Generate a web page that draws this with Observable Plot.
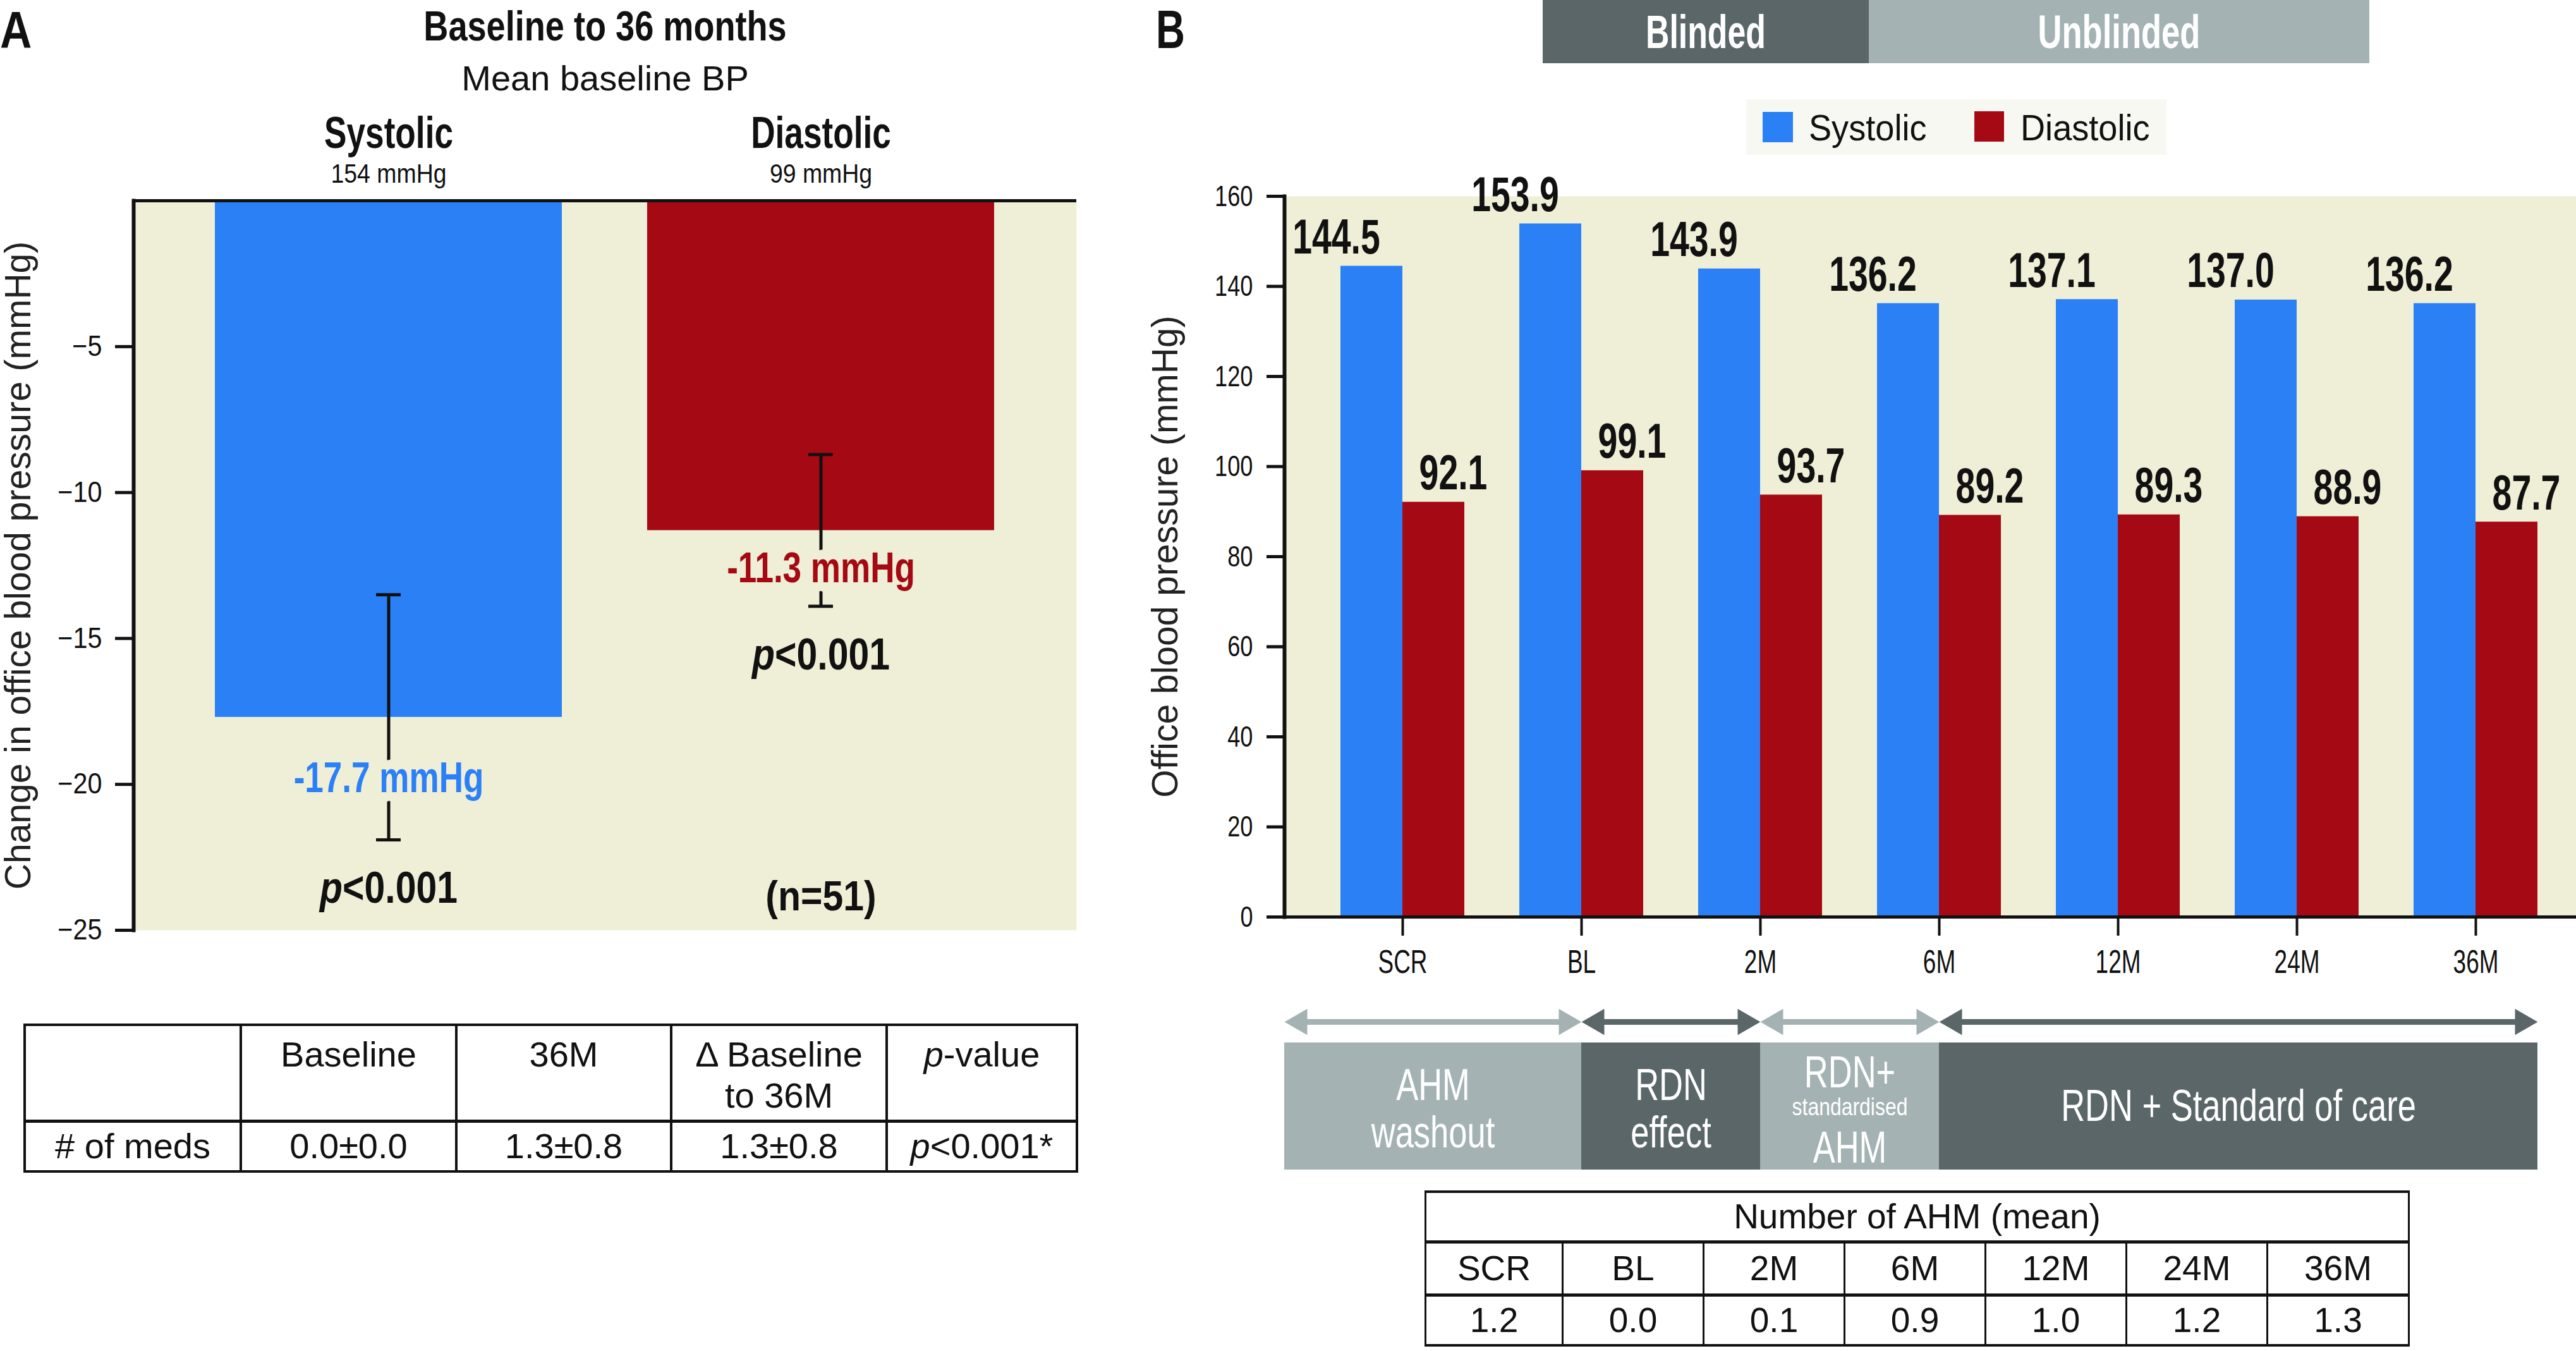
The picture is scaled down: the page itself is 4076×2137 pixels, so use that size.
<!DOCTYPE html>
<html>
<head>
<meta charset="utf-8">
<script src="https://cdn.jsdelivr.net/npm/d3@7"></script>
<script src="https://cdn.jsdelivr.net/npm/@observablehq/plot@0.6"></script>
<style>
html, body { margin:0; padding:0; background:#fff; }
#page { position:relative; width:4076px; height:2137px; overflow:hidden; background:#fff; }
#page > * { position:absolute; }
table.grid { border-collapse: collapse; table-layout: fixed; font-family: "Liberation Sans", Arial, sans-serif; color:#111; }
table.grid td { text-align:center; padding:0; border:4px solid #111; }
</style>
</head>
<body>
<div id="page"></div>
<script>
// ---------------- DATA ----------------
// Panel A
const titleA = "Baseline to 36 months";
const subtitleA = "Mean baseline BP";
const seriesA = ["Systolic", "Diastolic"];
const baselineBP = ["154 mmHg", "99 mmHg"];
const changeA = [-17.7, -11.3];
const errLowA = [-21.9, -13.9];
const errHighA = [-13.5, -8.7];
const pA = ["p<0.001", "p<0.001"];
const nLabel = "(n=51)";
const yTicksA = [-5, -10, -15, -20, -25];
const yLabelA = "Change in office blood pressure (mmHg)";
const tableAHeader = ["", "Baseline", "36M", "Δ Baseline\nto 36M", "p-value"];
const tableARow = ["# of meds", "0.0±0.0", "1.3±0.8", "1.3±0.8", "p<0.001*"];

// Panel B
const timepoints = ["SCR", "BL", "2M", "6M", "12M", "24M", "36M"];
const seriesB = ["Systolic", "Diastolic"];
const systolic = [144.5, 153.9, 143.9, 136.2, 137.1, 137.0, 136.2];
const diastolic = [92.1, 99.1, 93.7, 89.2, 89.3, 88.9, 87.7];
const yTicksB = [0, 20, 40, 60, 80, 100, 120, 140, 160];
const yLabelB = "Office blood pressure (mmHg)";
const blindLabels = ["Blinded", "Unblinded"];
const phases = ["AHM\nwashout", "RDN\neffect", "RDN+\nstandardised\nAHM", "RDN + Standard of care"];
const phaseFrom = ["start", "BL", "2M", "6M"];
const phaseTo = ["BL", "2M", "6M", "end"];
const tableBTitle = "Number of AHM (mean)";
const ahmMean = [1.2, 0.0, 0.1, 0.9, 1.0, 1.2, 1.3];

// ---------------- STYLE ----------------
const BLUE = "#2b80f6", RED = "#a50913", BEIGE = "#efefd8", DARK = "#5a6668", LIGHT = "#a4b2b3", INK = "#111";
const SANS = "'Liberation Sans',Arial,sans-serif";
const ns = "http://www.w3.org/2000/svg";
const page = document.getElementById("page");
function place(el, left, top) { el.style.left = left + "px"; el.style.top = top + "px"; page.appendChild(el); return el; }
function italicP(svg) {
  svg.querySelectorAll("text").forEach(t => {
    if (t.children.length === 0 && /^p[<\-]/.test(t.textContent)) {
      const rest = t.textContent.slice(1);
      t.textContent = "";
      const sp = document.createElementNS(ns, "tspan");
      sp.setAttribute("font-style", "italic");
      sp.textContent = "p";
      t.append(sp, rest);
    }
  });
}
// horizontal condensing of text (no narrow font installed): squeeze glyphs to a fraction of natural width
function condenseText(t, f) {
  const L = t.getComputedTextLength();
  if (L > 0) { t.setAttribute("textLength", (L * f).toFixed(1)); t.setAttribute("lengthAdjust", "spacingAndGlyphs"); }
}
function condenseSvg(svg) {
  svg.querySelectorAll("g[aria-description^='cx']").forEach(g => {
    const f = +g.getAttribute("aria-description").slice(2, 5) / 100;
    g.querySelectorAll("text").forEach(t => condenseText(t, f));
  });
}
function condenseAxis(svg, which, f) {
  svg.querySelectorAll(`g[aria-label="${which}-axis tick label"] text`).forEach(t => condenseText(t, f));
}

// ---------------- PANEL A ----------------
const dataA = seriesA.map((s, i) => ({series: s, change: changeA[i], lo: errLowA[i], hi: errHighA[i], base: baselineBP[i], p: pA[i]}));
const bwA = 549, capW = 39;
const chartA = Plot.plot({
  width: 1720, height: 1500,
  marginLeft: 211, marginRight: 17, marginTop: 317, marginBottom: 29,
  style: {background: "transparent", overflow: "visible", fontFamily: SANS, color: INK},
  x: {domain: seriesA, range: [272.25, 1641.25], paddingInner: 0.198, paddingOuter: 0.099, axis: null},
  y: {domain: [-25, 0], axis: null},
  color: {domain: seriesA, range: [BLUE, RED]},
  marks: [
    Plot.frame({fill: BEIGE, stroke: "none"}),
    Plot.barY(dataA, {x: "series", y: "change", fill: "series"}),
    Plot.ruleX(dataA, {x: "series", y1: "lo", y2: "hi", stroke: INK, strokeWidth: 5}),
    Plot.tickY(dataA, {x: "series", y: "lo", stroke: INK, strokeWidth: 5, insetLeft: (bwA - capW) / 2, insetRight: (bwA - capW) / 2}),
    Plot.tickY(dataA, {x: "series", y: "hi", stroke: INK, strokeWidth: 5, insetLeft: (bwA - capW) / 2, insetRight: (bwA - capW) / 2}),
    Plot.text(dataA, {ariaDescription: "cx078", x: "series", y: d => (d.change + d.lo) / 2, text: d => `${d.change} mmHg`, fill: "series",
      stroke: BEIGE, strokeWidth: 30, paintOrder: "stroke", fontSize: 68, fontWeight: "bold", lineAnchor: "middle"}),
    Plot.text(dataA, {ariaDescription: "cx083", x: "series", y: "lo", dy: 100, text: "p", lineAnchor: "bottom", fontSize: 71, fontWeight: "bold", fill: INK}),
    Plot.text([nLabel], {ariaDescription: "cx088", x: () => seriesA[1], text: d => d, frameAnchor: "bottom", dy: -32, lineAnchor: "bottom", fontSize: 67, fontWeight: "bold", fill: INK}),
    Plot.text(dataA, {ariaDescription: "cx076", x: "series", text: "series", frameAnchor: "top", dy: -84, lineAnchor: "bottom", fontSize: 70, fontWeight: "bold", fill: INK}),
    Plot.text(dataA, {ariaDescription: "cx087", x: "series", text: "base", frameAnchor: "top", dy: -29, lineAnchor: "bottom", fontSize: 43, fill: INK}),
    Plot.text([titleA], {ariaDescription: "cx082", text: d => d, frameAnchor: "top", dy: -254, lineAnchor: "bottom", fontSize: 66, fontWeight: "bold", fill: INK}),
    Plot.text([subtitleA], {text: d => d, frameAnchor: "top", dy: -175, lineAnchor: "bottom", fontSize: 56, fill: INK}),
    Plot.axisY({ticks: yTicksA, tickFormat: d => "\u2212" + Math.abs(d), tickSize: 29, tickPadding: 21, strokeWidth: 5, stroke: INK, fill: INK, fontSize: 46, label: null}),
    Plot.ruleY([0], {stroke: INK, strokeWidth: 5}),
    Plot.frame({anchor: "left", stroke: INK, strokeWidth: 6}),
    Plot.text([yLabelA], {text: d => d, frameAnchor: "left", textAnchor: "middle", rotate: -90, dx: -164, lineAnchor: "bottom", fontSize: 57, fill: "#222"})
  ]
});
italicP(chartA);
place(chartA, 0, 0);
condenseSvg(chartA);
condenseAxis(chartA, "y", 0.9);

// ---------------- PANEL B ----------------
const dataB = timepoints.flatMap((t, i) => [
  {time: t, series: seriesB[0], value: systolic[i]},
  {time: t, series: seriesB[1], value: diastolic[i]}
]);
const sysB = dataB.filter(d => d.series === seriesB[0]);
const diaB = dataB.filter(d => d.series === seriesB[1]);
const leftB = 1800, mlB = 232;
const chartB = Plot.plot({
  width: 2276, height: 1560,
  marginLeft: mlB, marginRight: 0, marginTop: 310, marginBottom: 110,
  style: {background: "transparent", overflow: "visible", fontFamily: SANS, color: INK},
  x: {domain: timepoints, range: [276.25, 2260.25], paddingInner: 0.3086, paddingOuter: 0.1543, label: null},
  y: {domain: [0, 160], axis: null},
  color: {domain: seriesB, range: [BLUE, RED]},
  marks: [
    Plot.frame({fill: BEIGE, stroke: "none"}),
    Plot.barY(sysB, {x: "time", y: "value", fill: "series", insetRight: 98}),
    Plot.barY(diaB, {x: "time", y: "value", fill: "series", insetLeft: 98}),
    Plot.text(sysB, {ariaDescription: "cx072", x: "time", y: "value", text: d => d.value.toFixed(1), dx: -105, dy: -20, lineAnchor: "bottom", fontSize: 77, fontWeight: "bold", fill: INK}),
    Plot.text(diaB, {ariaDescription: "cx072", x: "time", y: "value", text: d => d.value.toFixed(1), dx: 80, dy: -20, lineAnchor: "bottom", fontSize: 77, fontWeight: "bold", fill: INK}),
    Plot.axisY({ticks: yTicksB, tickSize: 28, tickPadding: 22, strokeWidth: 5, stroke: INK, fill: INK, fontSize: 47, label: null}),
    Plot.axisX({tickSize: 30, tickPadding: 22, strokeWidth: 4, stroke: INK, fill: INK, fontSize: 52, label: null}),
    Plot.ruleY([0], {stroke: INK, strokeWidth: 5}),
    Plot.frame({anchor: "left", stroke: INK, strokeWidth: 6}),
    Plot.text([yLabelB], {text: d => d, frameAnchor: "left", textAnchor: "middle", rotate: -90, dx: -170, lineAnchor: "bottom", fontSize: 57, fill: "#222"})
  ]
});
place(chartB, leftB, 0);
condenseSvg(chartB);
condenseAxis(chartB, "y", 0.77);
condenseAxis(chartB, "x", 0.71);

// phase geometry derived from chart B's x scale
const sx = chartB.scale("x");
const colorB = chartB.scale("color");
const center = t => sx.apply(t) + sx.bandwidth / 2;
const edge = t => t === "start" ? mlB : t === "end" ? sx.apply(timepoints[timepoints.length - 1]) + sx.bandwidth : center(t);
const phaseData = phases.map((label, i) => ({label, x1: edge(phaseFrom[i]), x2: edge(phaseTo[i]), shade: i % 2 ? DARK : LIGHT}));

// arrows
const heads = phaseData.flatMap(p => [{x: p.x1 + 24, rot: -90, shade: p.shade}, {x: p.x2 - 24, rot: 90, shade: p.shade}]);
const arrows = Plot.plot({
  width: 2276, height: 52, margin: 0,
  style: {background: "transparent", overflow: "visible"},
  x: {type: "identity", axis: null}, y: {domain: [-1, 1], axis: null}, color: {type: "identity"},
  marks: [
    Plot.ruleY(phaseData, {y: () => 0, x1: d => d.x1 + 30, x2: d => d.x2 - 30, stroke: "shade", strokeWidth: 9}),
    Plot.dot(heads, {x: "x", y: () => 0, symbol: "triangle", r: 15.4, rotate: "rot", fill: "shade", stroke: "none"})
  ]
});
place(arrows, leftB, 1590);

// phase boxes: one text per line, offsets (px from box middle) depend on number of lines
const lineOffsets = {1: [22.5], 2: [-10.5, 64.5], 3: [-30, 13.5, 88.5]};
const phaseLines = phaseData.flatMap(p => {
  const lines = p.label.split("\n");
  return lines.map((line, j) => ({x: (p.x1 + p.x2) / 2, line, dy: lineOffsets[lines.length][j], small: lines.length === 3 && j === 1}));
});
const boxes = Plot.plot({
  width: 2276, height: 201, margin: 0,
  style: {background: "transparent", overflow: "visible", fontFamily: SANS},
  x: {type: "identity", axis: null}, color: {type: "identity"},
  marks: [
    Plot.rect(phaseData, {x1: "x1", x2: "x2", fill: "shade"}),
    ...phaseLines.map(d => Plot.text([d], {ariaDescription: d.small ? "cx084" : "cx075", x: "x", text: "line", frameAnchor: "middle", dy: d.dy, lineAnchor: "bottom", fill: "white", fontSize: d.small ? 38 : 70}))
  ]
});
place(boxes, leftB, 1649);
condenseSvg(boxes);

// ---------------- TABLES ----------------
const fmt = s => {
  let h = s.replace(/&/g, "&amp;").replace(/</g, "&lt;").replace(/\n/g, "<br>");
  return h.replace(/^p(?=(&lt;|-))/, "<i>p</i>");
};
function makeTable(rows, colWidths, rowHeights, opts) {
  const t = document.createElement("table");
  t.className = "grid";
  t.style.width = colWidths.reduce((a, b) => a + b, 0) + "px";
  t.style.fontSize = opts.fontSize + "px";
  const cg = document.createElement("colgroup");
  colWidths.forEach(w => { const c = document.createElement("col"); c.style.width = w + "px"; cg.appendChild(c); });
  t.appendChild(cg);
  rows.forEach((cells, r) => {
    const tr = document.createElement("tr");
    tr.style.height = rowHeights[r] + "px";
    cells.forEach(cell => {
      const td = document.createElement("td");
      if (cell.span) td.colSpan = cell.span;
      td.innerHTML = fmt(cell.text);
      if (opts.cellStyle) opts.cellStyle(td, r);
      tr.appendChild(td);
    });
    t.appendChild(tr);
  });
  return t;
}
const tabA = makeTable(
  [tableAHeader.map(text => ({text})), tableARow.map(text => ({text}))],
  [342, 341, 340, 341, 301], [152, 80],
  {fontSize: 56, cellStyle: (td, r) => {
    if (r === 0) { td.style.verticalAlign = "top"; td.style.paddingTop = "12px"; td.style.lineHeight = "65px"; td.style.borderBottomWidth = "5px"; }
    else { td.style.verticalAlign = "middle"; td.style.lineHeight = "60px"; }
  }}
);
place(tabA, 37, 1619);

const tabB = makeTable(
  [[{text: tableBTitle, span: timepoints.length}], timepoints.map(text => ({text})), ahmMean.map(v => ({text: v.toFixed(1)}))],
  [217, 223, 223, 223, 223, 223, 224], [79, 84, 80],
  {fontSize: 55, cellStyle: (td, r) => { td.style.verticalAlign = "middle"; td.style.lineHeight = "60px"; if (r < 2) td.style.borderBottomWidth = "5px"; td.style.borderLeftWidth = "3px"; td.style.borderRightWidth = "3px"; }}
);
place(tabB, 2254, 1883);

// ---------------- OVERLAY (panel letters, blinded header, legend) ----------------
const overlay = document.createElementNS(ns, "svg");
overlay.setAttribute("width", 4076); overlay.setAttribute("height", 2137);
overlay.style.pointerEvents = "none";
const pending = [];
function otext(str, x, y, o) {
  const t = document.createElementNS(ns, "text");
  t.setAttribute("x", x); t.setAttribute("y", y);
  t.setAttribute("text-anchor", o.anchor || "middle");
  t.setAttribute("font-family", SANS);
  t.setAttribute("font-size", o.size);
  if (o.weight) t.setAttribute("font-weight", o.weight);
  t.setAttribute("fill", o.fill || INK);
  t.textContent = str;
  overlay.appendChild(t);
  if (o.cond) pending.push([t, o.cond]);
}
function orect(x, y, w, h, fill) {
  const r = document.createElementNS(ns, "rect");
  r.setAttribute("x", x); r.setAttribute("y", y); r.setAttribute("width", w); r.setAttribute("height", h); r.setAttribute("fill", fill);
  overlay.appendChild(r);
}
otext("A", 0, 75, {anchor: "start", weight: "bold", size: 82, cond: 0.85});
otext("B", 1829, 76, {anchor: "start", weight: "bold", size: 85, cond: 0.75});
// blinded / unblinded header
orect(2441, 0, 516, 100, DARK);
orect(2957, 0, 792, 100, LIGHT);
otext(blindLabels[0], 2699, 76, {weight: "bold", size: 74, fill: "white", cond: 0.70});
otext(blindLabels[1], 3353, 76, {weight: "bold", size: 74, fill: "white", cond: 0.71});
// legend
orect(2763, 157, 665, 88, "#f8f8f3");
orect(2789, 177, 48, 48, colorB.apply(seriesB[0]));
otext(seriesB[0], 2862, 222, {anchor: "start", size: 57, cond: 0.95});
orect(3124, 176, 47, 48, colorB.apply(seriesB[1]));
otext(seriesB[1], 3197, 222, {anchor: "start", size: 57, cond: 0.95});
place(overlay, 0, 0);
pending.forEach(([t, f]) => condenseText(t, f));
</script>
</body>
</html>
